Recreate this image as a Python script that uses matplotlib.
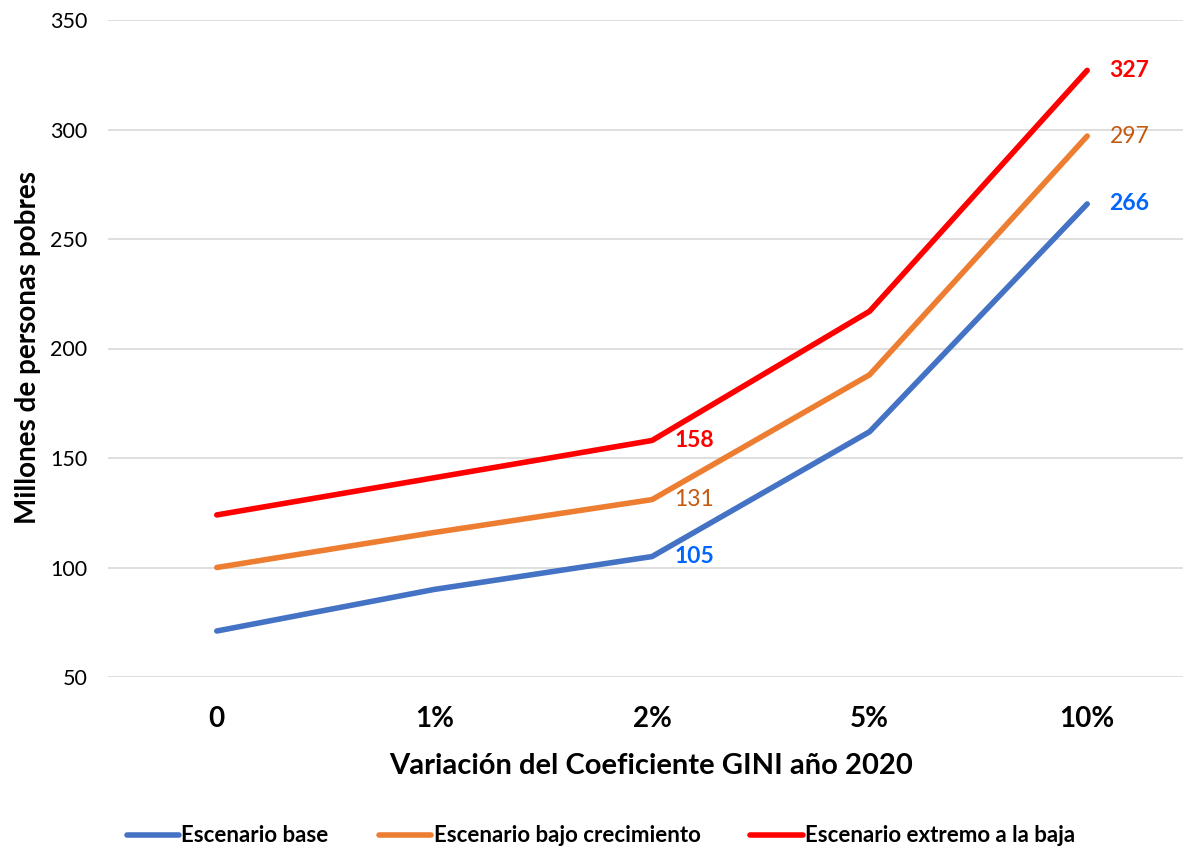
import matplotlib.pyplot as plt

categorias = ['0', '1%', '2%', '5%', '10%']
base = [71, 90, 105, 162, 266]
bajo = [100, 116, 131, 188, 297]
extremo = [124, 141, 158, 217, 327]
nombres = ['Escenario base', 'Escenario bajo crecimiento', 'Escenario extremo a la baja']

plt.rcParams['font.family'] = ['Lato', 'DejaVu Sans']

fig = plt.figure(figsize=(11.83, 8.49), dpi=100)
ax = fig.add_axes([108/1183, 172/849, 1088/1183, 657/849])

x = list(range(len(categorias)))
ax.plot(x, base, color='#4472C4', lw=4, solid_capstyle='round', label=nombres[0])
ax.plot(x, bajo, color='#ED7D31', lw=4, solid_capstyle='round', label=nombres[1])
ax.plot(x, extremo, color='#FF0000', lw=4, solid_capstyle='round', label=nombres[2])

# etiquetas de datos en 2% y 10%
for i in [2, 4]:
    ax.annotate(str(base[i]), (x[i], base[i]), xytext=(16, 0), textcoords='offset points',
                color='#0066FF', fontsize=16.5, fontweight='bold', va='center')
    ax.annotate(str(bajo[i]), (x[i], bajo[i]), xytext=(16, 0), textcoords='offset points',
                color='#C55A11', fontsize=16.5, va='center')
    ax.annotate(str(extremo[i]), (x[i], extremo[i]), xytext=(16, 0), textcoords='offset points',
                color='#FF0000', fontsize=16.5, fontweight='bold', va='center')

ax.set_xlim(-0.5, 4.5)
ax.set_ylim(50, 350)
ax.set_yticks(range(50, 351, 50))
ax.set_xticks(x)
ax.set_xticklabels(categorias, fontsize=20, fontweight='bold')
ax.tick_params(axis='y', labelsize=15.5, length=0, pad=15)
ax.tick_params(axis='x', length=0, pad=21)
ax.grid(axis='y', color='#D9D9D9', lw=1.2)
ax.set_axisbelow(True)
for s in ax.spines.values():
    s.set_visible(False)

fig.text(651/1183, 83/849, 'Variación del Coeficiente GINI año 2020', fontsize=21,
         fontweight='bold', ha='center', va='center')
fig.text(28/1183, 501/849, 'Millones de personas pobres', fontsize=20,
         fontweight='bold', ha='center', va='center', rotation=90)

ax.legend(loc='center', bbox_to_anchor=(601/1183, 13/849), bbox_transform=fig.transFigure,
          ncol=3, frameon=False, handlelength=2.35, handletextpad=0.12, columnspacing=2.25,
          prop={'weight': 'bold', 'size': 16})

fig.savefig('out.png', dpi=100)
